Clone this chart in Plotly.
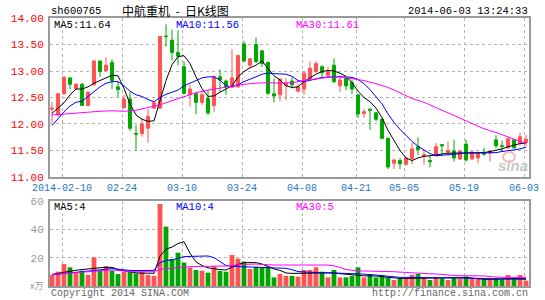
import plotly.graph_objects as go

# ---------------- data ----------------
tick_index = [2, 12, 22, 32, 42, 51, 59, 69, 79]
tick_text = ["2014-02-10", "02-24", "03-10", "03-24", "04-08", "04-21", "05-05", "05-19", "06-03"]

opens = [12.28, 12.17, 12.57, 12.87, 12.67, 12.75, 12.35, 12.74, 13.19, 13.01,
         13.16, 12.70, 12.31, 12.47, 11.82, 11.82, 11.92, 12.30, 12.30, 13.66,
         13.58, 13.35, 13.08, 12.55, 12.57, 12.41, 12.48, 12.35, 12.89, 12.81,
         12.70, 12.70, 13.51, 13.11, 13.50, 13.38, 13.16, 12.57, 12.55, 12.73,
         12.81, 12.62, 12.66, 12.86, 12.99, 13.08, 12.92, 13.11, 12.72, 12.86,
         12.78, 12.55, 12.20, 12.28, 12.21, 12.09, 11.73, 11.26, 11.31, 11.24,
         11.35, 11.57, 11.40, 11.31, 11.40, 11.61, 11.47, 11.49, 11.34, 11.62,
         11.34, 11.36, 11.46, 11.45, 11.70, 11.59, 11.55, 11.70, 11.64, 11.65]
highs = [12.42, 12.58, 12.91, 12.88, 12.77, 12.77, 12.62, 13.21, 13.19, 13.26,
         13.22, 12.80, 12.55, 12.60, 11.98, 12.11, 12.28, 12.43, 13.65, 13.88,
         13.78, 13.77, 13.18, 12.74, 12.61, 12.64, 12.64, 12.92, 13.03, 12.84,
         13.41, 13.31, 13.57, 13.24, 13.63, 13.40, 13.18, 12.86, 12.86, 12.86,
         12.88, 12.76, 12.99, 13.18, 13.18, 13.11, 13.08, 13.24, 12.92, 12.88,
         12.83, 12.56, 12.28, 12.29, 12.23, 12.10, 11.74, 11.35, 11.36, 11.36,
         11.64, 11.75, 11.51, 11.41, 11.64, 11.62, 11.67, 11.70, 11.49, 11.70,
         11.49, 11.48, 11.55, 11.49, 11.79, 11.69, 11.76, 11.72, 11.84, 11.79]
lows = [12.03, 12.14, 12.55, 12.66, 12.66, 12.35, 12.33, 12.73, 12.89, 12.99,
        12.66, 12.51, 12.29, 11.87, 11.50, 11.76, 11.65, 12.28, 12.28, 13.46,
        13.20, 13.11, 12.55, 12.33, 12.18, 12.36, 12.17, 12.23, 12.61, 12.55,
        12.68, 12.69, 13.17, 13.05, 13.15, 13.08, 12.55, 12.41, 12.43, 12.45,
        12.67, 12.59, 12.55, 12.83, 12.96, 12.89, 12.86, 12.77, 12.61, 12.64,
        12.56, 12.11, 12.12, 11.89, 12.05, 11.71, 11.15, 11.15, 11.15, 11.21,
        11.24, 11.41, 11.23, 11.18, 11.39, 11.41, 11.40, 11.29, 11.32, 11.29,
        11.32, 11.26, 11.40, 11.29, 11.54, 11.48, 11.54, 11.54, 11.59, 11.58]
closes = [12.30, 12.57, 12.88, 12.75, 12.75, 12.35, 12.60, 13.19, 12.99, 13.11,
          12.82, 12.65, 12.47, 11.92, 11.81, 12.00, 12.14, 12.40, 13.65, 13.65,
          13.35, 13.28, 12.58, 12.66, 12.41, 12.55, 12.21, 12.89, 12.83, 12.70,
          12.87, 13.29, 13.19, 13.23, 13.18, 13.14, 12.58, 12.53, 12.85, 12.77,
          12.74, 12.70, 12.96, 13.05, 13.14, 12.97, 12.99, 12.80, 12.83, 12.72,
          12.66, 12.19, 12.23, 12.26, 12.09, 11.73, 11.19, 11.32, 11.25, 11.35,
          11.53, 11.52, 11.42, 11.29, 11.57, 11.59, 11.50, 11.36, 11.49, 11.32,
          11.47, 11.45, 11.43, 11.48, 11.59, 11.58, 11.72, 11.55, 11.76, 11.71]

ma5 = [12.20, 12.30, 12.40, 12.55, 12.66, 12.66, 12.70, 12.77, 12.82, 12.86,
       12.92, 12.91, 12.67, 12.38, 12.17, 12.09, 12.05, 12.06, 12.42, 12.82,
       13.12, 13.27, 13.29, 13.14, 12.89, 12.67, 12.52, 12.53, 12.60, 12.66,
       12.72, 12.89, 12.99, 13.06, 13.11, 13.19, 13.05, 12.91, 12.83, 12.72,
       12.69, 12.70, 12.80, 12.87, 12.94, 12.99, 13.01, 13.00, 12.96, 12.90,
       12.78, 12.62, 12.50, 12.42, 12.30, 12.12, 11.88, 11.69, 11.50, 11.36,
       11.31, 11.36, 11.39, 11.40, 11.42, 11.44, 11.45, 11.45, 11.45, 11.45,
       11.45, 11.45, 11.46, 11.48, 11.50, 11.53, 11.57, 11.60, 11.63, 11.64]
ma10 = [11.97, 12.11, 12.23, 12.34, 12.41, 12.43, 12.52, 12.62, 12.70, 12.77,
        12.80, 12.80, 12.72, 12.62, 12.55, 12.52, 12.46, 12.42, 12.50, 12.56,
        12.60, 12.64, 12.72, 12.77, 12.83, 12.87, 12.89, 12.89, 12.83, 12.72,
        12.70, 12.74, 12.80, 12.84, 12.89, 12.94, 12.96, 12.95, 12.95, 12.94,
        12.90, 12.82, 12.80, 12.82, 12.85, 12.88, 12.89, 12.89, 12.89, 12.89,
        12.88, 12.84, 12.76, 12.65, 12.52, 12.38, 12.19, 12.03, 11.90, 11.78,
        11.67, 11.58, 11.51, 11.44, 11.40, 11.41, 11.42, 11.44, 11.45, 11.45,
        11.45, 11.45, 11.45, 11.45, 11.46, 11.48, 11.49, 11.51, 11.53, 11.56]
ma30_index = [0, 2, 4, 6, 8, 10, 12, 14, 16, 18, 20, 22, 24, 26, 28, 30, 32, 34, 36, 38,
              40, 42, 44, 46, 48, 50, 52, 54, 56, 58, 60, 62, 64, 66, 68, 70, 72, 74, 76, 78, 79]
ma30 = [12.17, 12.19, 12.21, 12.22, 12.24, 12.25, 12.24, 12.26, 12.31, 12.36,
        12.44, 12.52, 12.59, 12.64, 12.68, 12.72, 12.75, 12.77, 12.78, 12.77,
        12.78, 12.82, 12.85, 12.88, 12.89, 12.86, 12.82, 12.76, 12.69, 12.59,
        12.48, 12.41, 12.31, 12.22, 12.11, 12.01, 11.91, 11.84, 11.75, 11.67, 11.63]

volume = [7.8, 10.1, 15.5, 13.2, 9.4, 10.8, 7.8, 20.2, 11.3, 14.1,
          10.8, 8.5, 10.1, 10.1, 8.9, 10.1, 7.8, 7.1, 57.9, 41.9,
          19.1, 23.5, 16.5, 12.9, 11.3, 10.8, 9.4, 14.1, 10.6, 10.1,
          21.9, 19.3, 17.2, 12.0, 13.6, 12.9, 13.6, 6.1, 8.5, 7.1,
          7.1, 6.6, 11.3, 11.3, 13.2, 10.1, 6.1, 11.3, 6.1, 6.1,
          7.1, 13.2, 6.1, 7.8, 6.1, 7.8, 6.1, 4.2, 5.4, 5.4,
          7.8, 8.5, 6.1, 4.2, 6.1, 5.4, 4.2, 6.1, 5.4, 6.6,
          5.4, 5.4, 4.7, 4.7, 5.4, 4.7, 7.8, 5.4, 7.8, 3.8]
vol_ma5 = [8.2, 9.0, 9.8, 10.5, 11.1, 11.6, 12.2, 12.6, 12.9, 13.1,
           13.2, 11.6, 10.8, 10.0, 9.3, 9.1, 9.0, 9.0, 21.0, 26.0,
           27.5, 30.0, 31.3, 23.1, 17.0, 14.5, 12.8, 12.0, 11.6, 11.3,
           13.4, 15.2, 16.5, 16.5, 16.5, 15.5, 13.5, 12.0, 11.0, 9.2,
           8.9, 8.9, 9.0, 9.2, 9.4, 9.4, 9.4, 9.3, 8.7, 8.2,
           7.9, 7.6, 7.2, 7.1, 7.1, 6.5, 6.0, 5.5, 5.4, 5.4,
           5.4, 5.4, 5.4, 5.4, 5.4, 5.4, 5.6, 5.8, 6.0, 6.1,
           5.6, 5.0, 4.7, 4.7, 4.7, 4.7, 5.0, 5.2, 5.4, 5.4]
vol_ma10 = [7.9, 8.3, 8.8, 9.3, 10.0, 10.3, 10.7, 11.0, 11.3, 12.0,
            12.3, 11.8, 11.3, 11.0, 10.9, 10.8, 10.8, 11.0, 16.5, 18.0,
            18.4, 19.5, 20.7, 20.9, 21.0, 21.1, 21.2, 20.0, 17.2, 14.5,
            14.0, 13.6, 13.5, 13.4, 13.3, 13.2, 13.2, 13.0, 12.8, 12.5,
            11.5, 10.2, 9.9, 9.7, 9.6, 9.5, 9.4, 9.3, 9.1, 8.9,
            8.7, 8.6, 8.5, 8.1, 7.7, 7.2, 6.8, 6.2, 6.1, 6.1,
            6.1, 6.1, 6.1, 6.1, 6.1, 6.1, 6.1, 5.9, 5.7, 5.5,
            5.4, 5.3, 5.2, 5.1, 5.0, 4.9, 4.8, 4.8, 4.7, 4.7]
vol_ma30 = [8.2, 8.5, 8.8, 9.2, 9.6, 10.0, 10.4, 10.6, 10.8, 11.1,
            11.3, 11.0, 10.5, 10.2, 10.1, 10.1, 10.1, 10.1, 11.8, 12.3,
            12.7, 13.0, 13.3, 13.6, 13.8, 14.0, 14.1, 14.1, 14.1, 14.1,
            14.8, 15.0, 15.2, 15.4, 15.5, 15.2, 14.8, 14.8, 14.8, 14.8,
            14.8, 14.8, 14.8, 14.8, 14.8, 14.8, 14.8, 14.2, 13.2, 11.6,
            11.0, 10.6, 10.6, 10.6, 10.6, 10.6, 10.6, 10.1, 9.8, 9.5,
            9.1, 8.9, 8.7, 8.6, 8.5, 8.0, 7.5, 7.4, 7.3, 7.3,
            7.2, 7.2, 7.1, 6.6, 6.1, 6.1, 6.1, 6.1, 6.1, 6.1]

price_ticks = [11.0, 11.5, 12.0, 12.5, 13.0, 13.5, 14.0]
vol_ticks = [20, 40, 60]

# ---------------- styling ----------------
W, H = 545, 300
RED = "#FF5252"
GREEN = "#00A600"
MONO = "Liberation Mono, DejaVu Sans Mono, monospace"
x = list(range(len(closes)))
grid_pos = [t - 1 / 3 for t in tick_index]

def px(v):
    return v / W

def py(v):
    return 1 - v / H

fig = go.Figure()
fig.add_trace(go.Candlestick(
    x=x, open=opens, high=highs, low=lows, close=closes,
    increasing=dict(line=dict(color=RED, width=1), fillcolor=RED),
    decreasing=dict(line=dict(color=GREEN, width=1), fillcolor=GREEN),
    whiskerwidth=0, showlegend=False, hoverinfo="skip",
    xaxis="x", yaxis="y"))
fig.add_trace(go.Scatter(x=x, y=ma5, mode="lines", line=dict(color="black", width=1),
                         showlegend=False, hoverinfo="skip", xaxis="x", yaxis="y"))
fig.add_trace(go.Scatter(x=x, y=ma10, mode="lines", line=dict(color="#0000FF", width=1),
                         showlegend=False, hoverinfo="skip", xaxis="x", yaxis="y"))
fig.add_trace(go.Scatter(x=ma30_index, y=ma30, mode="lines", line=dict(color="#FF00FF", width=1),
                         showlegend=False, hoverinfo="skip", xaxis="x", yaxis="y"))

vol_colors = [RED if c >= o else GREEN for o, c in zip(opens, closes)]
fig.add_trace(go.Bar(x=x, y=volume, marker=dict(color=vol_colors, line=dict(width=0)),
                     showlegend=False, hoverinfo="skip", xaxis="x2", yaxis="y2"))
fig.add_trace(go.Scatter(x=x, y=vol_ma5, mode="lines", line=dict(color="black", width=1),
                         showlegend=False, hoverinfo="skip", xaxis="x2", yaxis="y2"))
fig.add_trace(go.Scatter(x=x, y=vol_ma10, mode="lines", line=dict(color="#0000FF", width=1),
                         showlegend=False, hoverinfo="skip", xaxis="x2", yaxis="y2"))
fig.add_trace(go.Scatter(x=x, y=vol_ma30, mode="lines", line=dict(color="#FF00FF", width=1),
                         showlegend=False, hoverinfo="skip", xaxis="x2", yaxis="y2"))

xr = [-1 / 3, 79.5]
common_x = dict(range=xr, showgrid=True, gridcolor="#b4b4b4", griddash="dot", gridwidth=1,
                tickmode="array", tickvals=grid_pos, ticks="", showline=True, mirror=True,
                linecolor="#999999", linewidth=2, zeroline=False, fixedrange=True,
                automargin=False)

fig.update_layout(
    width=W, height=H, margin=dict(l=0, r=0, t=0, b=0, autoexpand=False),
    paper_bgcolor="white", plot_bgcolor="white",
    boxgap=0.25, bargap=0.2,
    xaxis=dict(domain=[px(50), px(529)], anchor="y", ticktext=tick_text,
               tickfont=dict(family=MONO, size=10, color="#1E78C8"),
               rangeslider=dict(visible=False), **common_x),
    yaxis=dict(domain=[py(177), py(18)], anchor="x", range=[10.9995, 14.0005],
               tickmode="array", tickvals=price_ticks,
               ticktext=[f"{v:.2f}" for v in price_ticks],
               tickfont=dict(family=MONO, size=11, color="#FF0000"),
               showgrid=True, gridcolor="#b4b4b4", griddash="dot", ticks="",
               ticklabelstandoff=2, automargin=False,
               showline=True, mirror=True, linecolor="#999999", linewidth=2,
               zeroline=False, fixedrange=True),
    xaxis2=dict(domain=[px(50), px(529)], anchor="y2", showticklabels=False,
                ticktext=tick_text, **common_x),
    yaxis2=dict(domain=[py(286), py(201)], anchor="x2", range=[0, 60],
                tickmode="array", tickvals=vol_ticks, ticktext=[str(v) for v in vol_ticks],
                tickfont=dict(family=MONO, size=11, color="#999999"),
                showgrid=True, gridcolor="#b4b4b4", griddash="dot", ticks="",
                ticklabelstandoff=2, automargin=False,
                showline=True, mirror=True, linecolor="#999999", linewidth=2,
                zeroline=False, fixedrange=True),
)

def note(text, xp, yp, color="black", size=10, anchor="left", family=MONO, **kw):
    fig.add_annotation(text=text, x=px(xp), y=py(yp), xref="paper", yref="paper",
                       xanchor=anchor, yanchor="middle", showarrow=False,
                       borderpad=0,
                       font=dict(family=family, size=size, color=color), **kw)

NB = "\u00a0"
note("sh600765", 50, 11, size=10.5)
note("中航重机" + NB * 2 + "-" + NB * 2 + "日K线图", 121, 11, size=12,
     family="Noto Sans CJK SC")
note("2014-06-03 13:24:33", 529, 11, size=10.5, anchor="right")
note(f"MA5:{ma5[-1]:.2f}", 53, 24.5, size=10.5)
note(f"MA10:{ma10[-1]:.2f}", 175, 24.5, size=10.5, color="#0000FF")
note(f"MA30:{11.61:.2f}", 295, 24.5, size=10.5, color="#FF00FF")
note("MA5:4", 53, 206.5, size=10.5)
note("MA10:4", 175, 206.5, size=10.5, color="#0000FF")
note("MA30:5", 295, 206.5, size=10.5, color="#FF00FF")
note("x万", 44, 285, size=9, anchor="right", color="#999999", family="Noto Sans CJK SC")
note("Copyright 2014 SINA.COM", 50, 293, size=10, color="#666666")
note("http://finance.sina.com.cn", 529, 293, size=10, color="#666666", anchor="right")
note("<i><b>sina</b></i>", 513, 165, size=15, color="#c8c8c8", anchor="center",
     family="Arial, Liberation Sans, sans-serif")

fig.add_shape(type="circle", xref="paper", yref="paper",
              x0=px(503), x1=px(515), y0=py(162), y1=py(152),
              line=dict(color="#f3b9b9", width=2))

fig.write_html("out.html",
               post_script="document.body.style.margin='0';"
                           "document.body.style.overflow='hidden';")
